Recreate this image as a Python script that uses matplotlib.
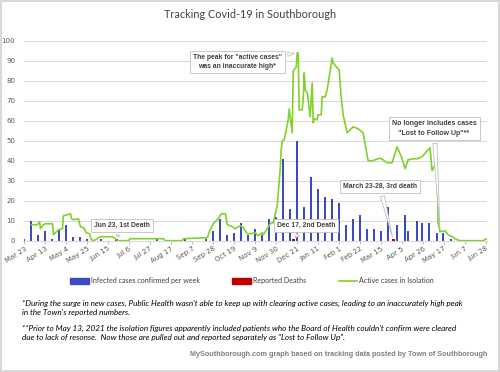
import pandas as pd
import matplotlib
matplotlib.use('Agg')
import matplotlib.pyplot as plt
import matplotlib.dates as mdates
from matplotlib.patches import Patch
from matplotlib.lines import Line2D

start = pd.Timestamp('2020-03-23')

# weekly confirmed cases (days after Mar 23, 2020)
case_days = [0, 7, 14, 21, 28, 35, 42, 49, 56, 63, 77, 133, 161, 182,
             189, 196, 203, 210, 217, 224, 231, 238, 245, 252, 259, 266,
             273, 280, 287, 294, 301, 308, 315, 322, 329, 336, 343, 350,
             357, 364, 373, 381, 384, 393, 398, 405, 413, 419, 427]
case_counts = [1, 10, 3, 5, 1, 6, 8, 2, 2, 1, 1, 1, 1, 1,
               5, 11, 3, 4, 9, 3, 6, 3, 11, 12, 41, 16,
               50, 17, 32, 26, 22, 21, 19, 8, 11, 13, 6, 6,
               5, 17, 8, 13, 5, 10, 9, 9, 4, 4, 1]

# reported deaths
death_days = [92, 269, 369]
death_counts = [1, 1, 1]
death_labels = ['Jun 23, 1st Death', 'Dec 17, 2nd Death', 'March 23-28, 3rd death']

# active cases in isolation
active_days = [7, 13, 15, 16, 19, 21, 28, 29, 31, 34, 38, 39, 43, 46, 47, 49,
               54, 56, 59, 62, 65, 67, 69, 73, 76, 88, 91, 93, 104, 106, 139,
               141, 158, 159, 183, 186, 189, 194, 197, 201, 203, 208, 211, 216,
               219, 223, 226, 231, 234, 238, 239, 243, 246, 249, 253, 256, 257,
               258, 260, 262, 264, 265, 268, 269, 272, 273, 274, 275, 278, 279,
               280, 281, 283, 284, 286, 288, 289, 290, 293, 294, 297, 298, 301,
               303, 308, 309, 313, 315, 317, 319, 323, 326, 329, 334, 339, 342,
               344, 348, 351, 356, 359, 363, 368, 373, 378, 381, 384, 389, 393,
               398, 403, 406, 408, 412, 413, 414, 416, 421, 424, 428, 433, 436,
               459, 463]
active_vals = [8, 8, 9.5, 6, 8, 8.5, 8.5, 3, 4, 5.5, 6, 12.5, 13, 13.5, 11, 10.5,
               11, 7, 6.5, 4, 3.5, 0.5, 0, 1, 2, 2, 1, 0, 0, 1, 1,
               0, 0, 1, 1.5, 5.5, 8.5, 11, 13.5, 13.5, 8, 7, 6, 7.5,
               6.5, 3.5, 3.5, 4, 2.5, 4, 3, 6, 8.5, 9, 17.5, 36, 45.5,
               50, 50.5, 55.5, 60.5, 66, 54, 85, 87, 94, 94, 65.5, 65.5, 71,
               84, 75.5, 74, 70.5, 62, 79, 59, 61, 60.5, 63, 63, 72, 72,
               75.5, 91.5, 89, 86.5, 85.5, 72, 63, 54, 55.5, 57, 56, 54, 45.5,
               40, 40, 40.5, 41.3, 40.5, 39, 39, 47, 41, 36, 40.5, 41, 41,
               42, 45, 46.5, 35, 39, 39.5, 9, 4.5, 5, 3, 2, 0.5, 0,
               0, 1]

case_dates = start + pd.to_timedelta(case_days, unit='D')
death_dates = start + pd.to_timedelta(death_days, unit='D')
active_dates = start + pd.to_timedelta(active_days, unit='D')
tick_dates = pd.date_range(start, periods=23, freq='21D')

blue = '#3b4cc0'
red = '#c00000'
green = '#80d22a'
grey = '#595959'

fig = plt.figure(figsize=(5, 3.72), dpi=100)
fig.patch.set_edgecolor('#d9d9d9')
fig.patch.set_linewidth(1.5)
ax = fig.add_axes([0.047, 0.353, 0.927, 0.537])

ax.bar(case_dates, case_counts, width=2, color=blue, zorder=2)
ax.bar(death_dates, death_counts, width=3, color=red, zorder=3)
ax.plot(active_dates, active_vals, color=green, lw=1.2, zorder=4)

ax.set_xlim(start - pd.Timedelta(days=1), start + pd.Timedelta(days=463))
ax.set_ylim(0, 100)
ax.set_yticks(range(0, 101, 10))
ax.set_xticks(tick_dates)
ax.xaxis.set_major_formatter(mdates.DateFormatter('%b %-d'))
ax.grid(axis='y', color='#d9d9d9', lw=0.7, zorder=0)
for s in ['top', 'right', 'left']:
    ax.spines[s].set_visible(False)
ax.spines['bottom'].set_color('#d9d9d9')
ax.tick_params(axis='y', length=0, labelsize=5, labelcolor=grey, pad=6)
ax.tick_params(axis='x', length=2.5, color='#bfbfbf', labelsize=5, labelcolor=grey, pad=1)
for lab in ax.get_xticklabels():
    lab.set_rotation(32)
    lab.set_ha('right')
    lab.set_rotation_mode('anchor')

box = dict(boxstyle='square,pad=0.45', fc='white', ec='#bfbfbf', lw=0.6)
wedge = dict(arrowstyle='wedge,tail_width=0.6,shrink_factor=0.5', fc='white',
             ec='#bfbfbf', lw=0.6)
label_pos = [(98, 7.5), (282, 7.5), (356, 27)]
for d, n, txt, (tx, ty) in zip(death_dates, death_counts, death_labels, label_pos):
    ax.annotate(txt, xy=(d, n * 0.5), xytext=(start + pd.Timedelta(days=tx), ty),
                ha='center', va='center', fontsize=4.9, fontweight='bold',
                color='#404040', bbox=box, arrowprops=wedge, zorder=6,
                family='Liberation Sans')

i_peak = active_vals.index(max(active_vals))
ax.annotate('The peak for "active cases"\nwas an inaccurate high*',
            xy=(active_dates[i_peak], active_vals[i_peak]),
            xytext=(start + pd.Timedelta(days=213), 89.5),
            ha='center', va='center', fontsize=4.9, fontweight='bold',
            color='#404040', bbox=box, arrowprops=wedge, zorder=6,
            family='Liberation Sans', linespacing=1.5)

i_drop = active_days.index(416)
ax.annotate('No longer includes cases\n"Lost to Follow Up"**',
            xy=(active_dates[i_drop], active_vals[i_drop]),
            xytext=(start + pd.Timedelta(days=410), 56),
            ha='center', va='center', fontsize=5, fontweight='bold',
            color='#404040', bbox=box, arrowprops=wedge, zorder=6,
            family='Liberation Sans', linespacing=1.6)

fig.text(0.5, 0.962, 'Tracking Covid-19 in Southborough', ha='center', va='center',
         fontsize=7.8, color='#404040', family='Lato')

handles = [Patch(color=blue), Patch(color=red), Line2D([], [], color=green, lw=1.2)]
labels = ['Infected cases confirmed per week', 'Reported Deaths', 'Active cases in Isolation']
fig.legend(handles, labels, loc='center', bbox_to_anchor=(0.504, 0.245), ncol=3,
           frameon=False, prop={'family': 'Lato', 'size': 5.1}, handlelength=2.6,
           handleheight=0.9, columnspacing=4.6, handletextpad=0.3, labelcolor='#404040')

fig.text(0.044, 0.172,
         "*During the surge in new cases, Public Health wasn't able to keep up with clearing "
         "active cases, leading to an inaccurately high peak\nin the Town's reported numbers.",
         fontsize=5.85, style='italic', family='Lato', va='center', linespacing=1.25)
fig.text(0.044, 0.105,
         "**Prior to May 13, 2021 the isolation figures apparently included patients who the "
         "Board of Health couldn't confirm were cleared\ndue to lack of resonse.  Now those are "
         "pulled out and reported separately as \"Lost to Follow Up\".",
         fontsize=5.85, style='italic', family='Lato', va='center', linespacing=1.25)
fig.text(0.974, 0.046,
         'MySouthborough.com graph based on tracking data posted by Town of Southborough',
         ha='right', va='center', fontsize=5.2, fontweight='bold', color='#7f7f7f',
         family='Liberation Sans')

fig.savefig('out.png', dpi=100)
